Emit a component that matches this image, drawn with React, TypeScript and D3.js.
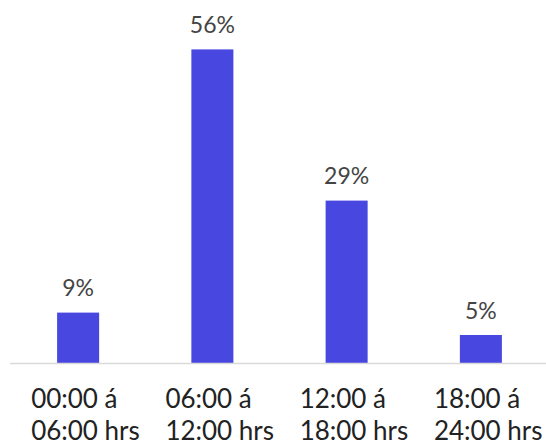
import React from "react";
import * as d3 from "d3";

const categories = ["00:00 á|06:00 hrs", "06:00 á|12:00 hrs", "12:00 á|18:00 hrs", "18:00 á|24:00 hrs"];
const values = [9, 56, 29, 5];
const valueLabels = ["9%", "56%", "29%", "5%"];

const W = 546;
const H = 442;

export default function App() {
  const x = d3.scaleBand<string>().domain(categories).range([11, 548]).paddingInner(0.687).paddingOuter(0.3435);
  const y = d3.scaleLinear().domain([0, 100]).range([363, 363 - 560]);
  const bw = x.bandwidth();
  return (
    <svg width={W} height={H} style={{ position: "absolute", left: 0, top: 0, fontFamily: "Lato" }}>
      <rect x={0} y={0} width={W} height={H} fill="#fff" />
      {categories.map((c, i) => (
        <rect key={c} x={x(c)!} y={y(values[i])} width={bw} height={y(0) - y(values[i])} fill="#4848E0" />
      ))}
      <line x1={10} x2={546} y1={y(0) + 0.5} y2={y(0) + 0.5} stroke="#d9d9d9" strokeWidth={1.5} />
      {categories.map((c, i) => (
        <text key={"v" + c} x={x(c)! + bw / 2} y={y(values[i]) - 16.5} textAnchor="middle" fontSize={23} fill="#444444">
          {valueLabels[i]}
        </text>
      ))}
      {categories.map((c) => {
        const lines = c.split("|");
        const cx = x(c)! + bw / 2;
        return (
          <text key={"c" + c} fontSize={26} fill="#222222">
            {lines.map((l, j) => (
              <tspan key={j} x={cx - 47} y={407.5 + j * 32.5}>
                {l}
              </tspan>
            ))}
          </text>
        );
      })}
    </svg>
  );
}
